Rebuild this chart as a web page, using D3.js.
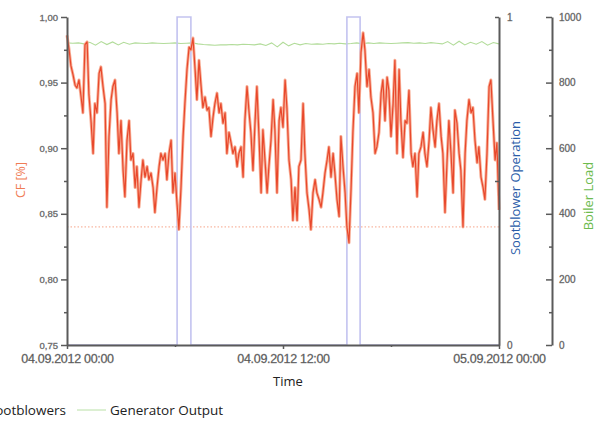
<!DOCTYPE html>
<html>
<head>
<meta charset="utf-8">
<script src="https://cdn.jsdelivr.net/npm/d3@7"></script>
<style>
  body { margin: 0; background: #fff; }
  svg { display: block; }
</style>
</head>
<body>
<div id="chart"></div>
<script>
// CF readings, evenly spaced over 04.09.2012 00:00 - 05.09.2012 00:00
var cfValues = [
  0.986, 0.975, 0.963, 0.956, 0.948, 0.946, 0.952, 0.939, 0.927, 0.979,
  0.981, 0.941, 0.921, 0.896, 0.934, 0.927, 0.957, 0.962, 0.947, 0.934,
  0.855, 0.909, 0.937, 0.947, 0.952, 0.927, 0.896, 0.921, 0.883, 0.863,
  0.906, 0.921, 0.891, 0.896, 0.870, 0.886, 0.855, 0.876, 0.891, 0.878,
  0.886, 0.876, 0.881, 0.870, 0.851, 0.870, 0.886, 0.896, 0.891, 0.896,
  0.876, 0.896, 0.906, 0.866, 0.881, 0.857, 0.838, 0.870, 0.909, 0.934,
  0.960, 0.977, 0.975, 0.984, 0.960, 0.937, 0.967, 0.947, 0.931, 0.939,
  0.929, 0.931, 0.909, 0.924, 0.934, 0.942, 0.927, 0.934, 0.919, 0.927,
  0.896, 0.912, 0.904, 0.896, 0.901, 0.886, 0.896, 0.901, 0.878, 0.921,
  0.947, 0.927, 0.912, 0.883, 0.921, 0.947, 0.909, 0.866, 0.914, 0.891,
  0.866, 0.886, 0.906, 0.937, 0.914, 0.866, 0.921, 0.931, 0.916, 0.952,
  0.931, 0.891, 0.876, 0.845, 0.870, 0.845, 0.886, 0.891, 0.934, 0.896,
  0.866, 0.853, 0.838, 0.866, 0.876, 0.866, 0.861, 0.855, 0.866, 0.881,
  0.891, 0.901, 0.878, 0.896, 0.881, 0.861, 0.848, 0.909, 0.886, 0.866,
  0.840, 0.828, 0.870, 0.912, 0.947, 0.957, 0.927, 0.973, 0.988, 0.975,
  0.947, 0.960, 0.939, 0.927, 0.896, 0.901, 0.912, 0.942, 0.952, 0.921,
  0.954, 0.944, 0.909, 0.934, 0.967, 0.896, 0.960, 0.921, 0.893, 0.921,
  0.919, 0.944, 0.896, 0.886, 0.896, 0.863, 0.896, 0.901, 0.912, 0.896,
  0.886, 0.906, 0.931, 0.914, 0.901, 0.921, 0.934, 0.909, 0.896, 0.851,
  0.891, 0.921, 0.896, 0.866, 0.929, 0.919, 0.896, 0.883, 0.840, 0.896,
  0.921, 0.937, 0.927, 0.931, 0.906, 0.889, 0.901, 0.878, 0.870, 0.861,
  0.896, 0.947, 0.952, 0.921, 0.891, 0.904, 0.853
];

// generator output / boiler load (MW), evenly spaced over the same day
var loadValues = [
  921, 920, 921, 918, 923, 914, 925, 916, 924, 915,
  923, 917, 921, 920, 919, 921, 920, 919, 920, 921,
  919, 920, 921, 918, 916, 915, 914, 915, 915, 916,
  915, 917, 916, 915, 918, 913, 921, 909, 923, 912,
  920, 915, 919, 917, 918, 917, 919, 918, 920, 918,
  919, 921, 918, 921, 919, 921, 920, 919, 920, 921,
  922, 920, 921, 919, 922, 920, 918, 925, 914, 926,
  915, 923, 917, 925, 914, 922, 918
];

// sootblower operation (0 = off, 1 = on)
var sootTimes = ["00:00", "06:07", "06:53", "15:33", "16:17", "24:00"];
var sootValues = [0, 1, 0, 1, 0, 0];

var cfLimit = 0.84;
var cfTicks = [0.75, 0.80, 0.85, 0.90, 0.95, 1.00];
var loadTicks = [0, 200, 400, 600, 800, 1000];
var timeTicks = [0, 12, 24];   // hours
var timeMinor = [6, 18];

var W = 604, H = 425;
var pLeft = 67, pRight = 499, pTop = 17, pBottom = 345;

var svg = d3.select("#chart").append("svg")
    .attr("width", W)
    .attr("height", H);

var t0 = new Date(2012, 8, 4, 0, 0);
var t1 = new Date(2012, 8, 5, 0, 0);
function hrs(h) { return d3.timeMinute.offset(t0, Math.round(h * 60)); }

var x = d3.scaleTime().domain([t0, t1]).range([pLeft, pRight]);
var yCF = d3.scaleLinear().domain([0.75, 1]).range([pBottom, pTop]);
var ySoot = d3.scaleLinear().domain([0, 1]).range([pBottom, pTop]);
var yLoad = d3.scaleLinear().domain([0, 1000]).range([pBottom, pTop]);

var cfData = cfValues.map(function(v, i) {
  return { t: hrs(24 * i / (cfValues.length - 1)), v: v };
});
var loadData = loadValues.map(function(v, i) {
  return { t: hrs(24 * i / (loadValues.length - 1)), v: v };
});
var sootData = sootTimes.map(function(s, i) {
  var p = s.split(":");
  return { t: hrs(+p[0] + p[1] / 60), v: sootValues[i] };
});

// limit line
svg.append("line")
    .attr("x1", x(t0)).attr("x2", x(t1))
    .attr("y1", yCF(cfLimit)).attr("y2", yCF(cfLimit))
    .attr("stroke", "#f6a58a")
    .attr("stroke-width", 1)
    .attr("stroke-dasharray", "1.5,2");

// boiler load
svg.append("path")
    .datum(loadData)
    .attr("fill", "none")
    .attr("stroke", "#b2dc9a")
    .attr("stroke-width", 1.1)
    .attr("d", d3.line()
        .x(function(d) { return x(d.t); })
        .y(function(d) { return yLoad(d.v); }));

// sootblowers
svg.append("path")
    .datum(sootData)
    .attr("fill", "none")
    .attr("stroke", "#c3c3f0")
    .attr("stroke-width", 1.6)
    .attr("d", d3.line()
        .curve(d3.curveStepAfter)
        .x(function(d) { return x(d.t); })
        .y(function(d) { return ySoot(d.v); }));

// CF
var cfLine = d3.line()
    .x(function(d) { return x(d.t); })
    .y(function(d) { return yCF(d.v); });
svg.append("path")
    .datum(cfData)
    .attr("fill", "none")
    .attr("stroke", "#f8ae96")
    .attr("stroke-width", 3)
    .attr("stroke-linejoin", "round")
    .attr("d", cfLine);
svg.append("path")
    .datum(cfData)
    .attr("fill", "none")
    .attr("stroke", "#e8482c")
    .attr("stroke-width", 1.2)
    .attr("stroke-linejoin", "round")
    .attr("d", cfLine);

// axes
function styleAxis(g) {
  g.select(".domain").attr("stroke", "#5a5a5a").attr("stroke-width", 2);
  g.selectAll(".tick line").attr("stroke", "#5a5a5a").attr("stroke-width", 1.5);
  g.selectAll("text").attr("fill", "#444")
      .attr("stroke", "#888").attr("stroke-width", 0.3)
      .attr("font-family", "Liberation Sans, Arial, sans-serif");
}
function minorTicks(g) {
  g.select(".domain").remove();
  g.selectAll("line").attr("stroke", "#5a5a5a").attr("stroke-width", 1.5);
}
var comma = function(d) { return d3.format(".2f")(d).replace(".", ","); };

var gL = svg.append("g").attr("transform", "translate(" + pLeft + ",0)")
    .call(d3.axisLeft(yCF).tickValues(cfTicks).tickFormat(comma).tickSize(6).tickSizeOuter(0).tickPadding(3));
styleAxis(gL);
gL.selectAll("text").attr("font-size", 9.5);
svg.append("g").attr("transform", "translate(" + pLeft + ",0)")
    .call(d3.axisLeft(yCF).tickValues([0.775, 0.825, 0.875, 0.925, 0.975]).tickFormat("").tickSize(3))
    .call(minorTicks);

var gB = svg.append("g").attr("transform", "translate(0," + pBottom + ")")
    .call(d3.axisBottom(x).tickValues(timeTicks.map(hrs))
        .tickFormat(d3.timeFormat("%d.%m.%Y %H:%M")).tickSize(4).tickSizeOuter(0).tickPadding(5));
styleAxis(gB);
gB.selectAll("text").attr("font-size", 12.5).attr("letter-spacing", -0.3);
svg.append("g").attr("transform", "translate(0," + pBottom + ")")
    .call(d3.axisBottom(x).tickValues(timeMinor.map(hrs)).tickFormat("").tickSize(2))
    .call(minorTicks);

var gS = svg.append("g").attr("transform", "translate(" + pRight + ",0)")
    .call(d3.axisRight(ySoot).tickValues([0, 1]).tickFormat(d3.format("d")).tickSize(0).tickPadding(8));
styleAxis(gS);
gS.selectAll("text").attr("font-size", 10);
svg.append("g").attr("transform", "translate(" + pRight + ",0)")
    .call(d3.axisLeft(ySoot).tickValues([0.5, 1]).tickFormat("").tickSize(4))
    .call(minorTicks);

var gR = svg.append("g").attr("transform", "translate(552,0)")
    .call(d3.axisLeft(yLoad).tickValues(loadTicks).tickFormat("").tickSize(6).tickSizeOuter(0));
styleAxis(gR);
svg.append("g").attr("transform", "translate(552,0)")
    .call(d3.axisLeft(yLoad).tickValues([100, 300, 500, 700, 900]).tickFormat("").tickSize(3))
    .call(minorTicks);
svg.append("g").selectAll("text").data(loadTicks).join("text")
    .attr("x", 559).attr("y", function(d) { return yLoad(d) + 3.5; })
    .attr("font-size", 10)
    .attr("font-family", "Liberation Sans, Arial, sans-serif")
    .attr("fill", "#444").attr("stroke", "#888").attr("stroke-width", 0.3)
    .text(function(d) { return d; });

// axis titles
var labelFont = "Open Sans, Noto Sans, sans-serif";
svg.append("text")
    .attr("transform", "translate(25,180) rotate(-90)")
    .attr("text-anchor", "middle")
    .attr("font-family", labelFont).attr("font-size", 12.5)
    .attr("fill", "#f07c55")
    .text("CF [%]");
svg.append("text")
    .attr("transform", "translate(520,188) rotate(-90)")
    .attr("text-anchor", "middle")
    .attr("font-family", labelFont).attr("font-size", 13)
    .attr("fill", "#2a5ca8")
    .text("Sootblower Operation");
svg.append("text")
    .attr("transform", "translate(593,196) rotate(-90)")
    .attr("text-anchor", "middle")
    .attr("font-family", labelFont).attr("font-size", 13)
    .attr("fill", "#6dbb4e")
    .text("Boiler Load");
svg.append("text")
    .attr("x", 288).attr("y", 386)
    .attr("text-anchor", "middle")
    .attr("font-family", labelFont).attr("font-size", 13)
    .attr("fill", "#222")
    .text("Time");

// legend (cut at the left edge)
var lg = svg.append("g").attr("font-family", labelFont).attr("font-size", 13.5).attr("fill", "#222");
lg.append("text").attr("x", 66).attr("y", 415).attr("text-anchor", "end").text("Sootblowers");
lg.append("line").attr("x1", 77).attr("x2", 106).attr("y1", 410).attr("y2", 410)
    .attr("stroke", "#b9e0a6").attr("stroke-width", 1);
lg.append("text").attr("x", 110).attr("y", 415).text("Generator Output");
</script>
</body>
</html>
